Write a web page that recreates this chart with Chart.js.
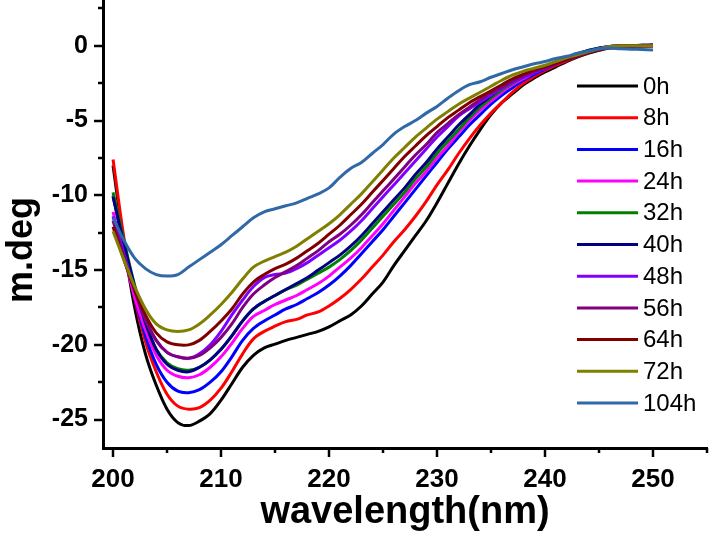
<!DOCTYPE html>
<html>
<head>
<meta charset="utf-8">
<title>CD spectra</title>
<script src="https://cdn.jsdelivr.net/npm/chart.js@4.4.0/dist/chart.umd.min.js"></script>
<style>
  html, body { margin: 0; padding: 0; background: #fff; }
  #wrap { width: 709px; height: 535px; }
</style>
</head>
<body>
<div id="wrap"><canvas id="cdChart" width="709" height="535"></canvas></div>
<script>
// wavelength (nm)
var wavelengths = [200, 201, 202, 203, 204, 205, 206, 207, 208, 209,
                   210, 211, 212, 213, 214, 215, 216, 217, 218, 219,
                   220, 221, 222, 223, 224, 225, 226, 227, 228, 229,
                   230, 231, 232, 233, 234, 235, 236, 237, 238, 239,
                   240, 241, 242, 243, 244, 245, 246, 247, 248, 249, 250];

// m.deg per time point
var h0 = [-8.0, -13.2, -17.5, -20.6, -22.7, -24.3, -25.2, -25.4, -25.1, -24.6,
          -23.7, -22.6, -21.5, -20.7, -20.2, -19.95, -19.7, -19.5, -19.3, -19.1,
          -18.8, -18.4, -18.0, -17.4, -16.6, -15.8, -14.7, -13.7, -12.7, -11.7,
          -10.5, -9.2, -7.9, -6.7, -5.6, -4.6, -3.8, -3.2, -2.6, -2.15,
          -1.75, -1.4, -1.05, -0.75, -0.5, -0.3, -0.15, -0.1, -0.05, 0, 0];
var h8 = [-7.6, -12.8, -16.9, -19.8, -21.8, -23.3, -24.1, -24.3, -24.2, -23.7,
          -22.9, -21.8, -20.6, -19.6, -19.1, -18.75, -18.45, -18.3, -18.0, -17.8,
          -17.4, -16.9, -16.3, -15.6, -14.8, -14.0, -13.1, -12.3, -11.4, -10.4,
          -9.3, -8.3, -7.2, -6.2, -5.3, -4.5, -3.8, -3.1, -2.5, -2.05,
          -1.65, -1.3, -1.0, -0.7, -0.45, -0.25, -0.15, -0.1, -0.05, 0, 0.05];
var h16 = [-10.0, -13.5, -16.8, -19.4, -21.3, -22.5, -23.1, -23.2, -23.0, -22.5,
           -21.8, -20.8, -19.7, -18.9, -18.4, -18.0, -17.6, -17.3, -16.9, -16.5,
           -16.0, -15.4, -14.7, -13.9, -13.1, -12.3, -11.4, -10.5, -9.6, -8.7,
           -7.8, -6.9, -6.1, -5.3, -4.6, -3.9, -3.3, -2.8, -2.3, -1.9,
           -1.55, -1.2, -0.9, -0.65, -0.4, -0.2, -0.1, -0.05, -0.05, 0, 0];
var h24 = [-11.1, -14.0, -16.8, -19.0, -20.7, -21.7, -22.1, -22.2, -22.0, -21.5,
           -20.8, -19.9, -18.9, -18.1, -17.7, -17.3, -17.0, -16.7, -16.3, -15.9,
           -15.4, -14.8, -14.2, -13.5, -12.7, -11.9, -11.0, -10.1, -9.2, -8.4,
           -7.5, -6.7, -5.8, -5.0, -4.3, -3.7, -3.1, -2.6, -2.2, -1.8,
           -1.45, -1.15, -0.85, -0.6, -0.4, -0.2, -0.1, -0.05, 0, 0, 0];
var h32 = [-9.8, -13.0, -16.0, -18.5, -20.3, -21.2, -21.6, -21.7, -21.5, -21.0,
           -20.3, -19.4, -18.4, -17.6, -17.1, -16.7, -16.3, -16.0, -15.6, -15.2,
           -14.8, -14.3, -13.7, -13.0, -12.2, -11.4, -10.6, -9.8, -8.9, -8.1,
           -7.2, -6.4, -5.6, -4.8, -4.1, -3.5, -2.95, -2.5, -2.1, -1.7,
           -1.4, -1.1, -0.8, -0.55, -0.3, -0.15, -0.05, 0, 0, 0, 0.05];
var h40 = [-10.1, -13.2, -16.1, -18.5, -20.3, -21.3, -21.7, -21.8, -21.5, -21.0,
           -20.3, -19.4, -18.4, -17.6, -17.1, -16.7, -16.3, -15.9, -15.5, -15.0,
           -14.5, -14.0, -13.4, -12.7, -11.9, -11.1, -10.3, -9.5, -8.6, -7.8,
           -6.9, -6.1, -5.3, -4.6, -3.9, -3.35, -2.8, -2.35, -2.0, -1.65,
           -1.35, -1.05, -0.8, -0.55, -0.3, -0.15, -0.05, 0, 0, 0.05, 0.05];
var h48 = [-11.4, -13.9, -16.3, -18.3, -19.7, -20.5, -20.8, -20.9, -20.6, -20.0,
           -19.1, -18.0, -17.0, -16.1, -15.5, -15.3, -15.2, -14.9, -14.5, -14.0,
           -13.5, -13.0, -12.4, -11.7, -10.9, -10.1, -9.3, -8.5, -7.7, -6.9,
           -6.1, -5.4, -4.7, -4.2, -3.75, -3.3, -2.85, -2.45, -2.1, -1.8,
           -1.5, -1.2, -0.9, -0.65, -0.4, -0.2, -0.05, 0, 0, 0, 0];
var h56 = [-11.7, -14.1, -16.4, -18.3, -19.7, -20.5, -20.8, -20.9, -20.7, -20.2,
           -19.5, -18.6, -17.5, -16.6, -16.0, -15.5, -15.1, -14.7, -14.2, -13.7,
           -13.1, -12.6, -12.0, -11.3, -10.5, -9.7, -8.9, -8.1, -7.3, -6.6,
           -5.8, -5.2, -4.6, -4.1, -3.6, -3.15, -2.75, -2.35, -2.0, -1.7,
           -1.45, -1.2, -0.95, -0.7, -0.45, -0.25, -0.1, 0, 0, 0, 0];
var h64 = [-12.1, -14.3, -16.3, -18.0, -19.2, -19.8, -20.0, -20.0, -19.7, -19.1,
           -18.4, -17.6, -16.6, -15.8, -15.3, -14.9, -14.6, -14.2, -13.7, -13.2,
           -12.6, -12.0, -11.3, -10.6, -9.8, -9.0, -8.2, -7.4, -6.7, -6.0,
           -5.4, -4.8, -4.3, -3.8, -3.4, -3.0, -2.6, -2.2, -1.9, -1.6,
           -1.4, -1.15, -0.9, -0.65, -0.45, -0.25, -0.1, 0, 0, 0, 0];
var h72 = [-12.4, -14.3, -16.1, -17.6, -18.6, -19.0, -19.1, -19.0, -18.6, -18.0,
           -17.3, -16.5, -15.6, -14.8, -14.4, -14.1, -13.8, -13.4, -12.9, -12.4,
           -11.9, -11.3, -10.6, -9.9, -9.1, -8.3, -7.5, -6.8, -6.1, -5.5,
           -4.9, -4.4, -3.9, -3.5, -3.1, -2.7, -2.3, -1.95, -1.7, -1.5,
           -1.3, -1.05, -0.8, -0.6, -0.4, -0.2, -0.05, 0, 0, 0, 0];
var h104 = [-11.5, -13.0, -14.2, -14.9, -15.3, -15.4, -15.3, -14.8, -14.3, -13.8,
            -13.3, -12.7, -12.1, -11.5, -11.1, -10.9, -10.7, -10.5, -10.2, -9.9,
            -9.5, -8.8, -8.2, -7.8, -7.2, -6.6, -5.9, -5.4, -5.0, -4.5,
            -4.05, -3.5, -3.0, -2.6, -2.4, -2.1, -1.85, -1.6, -1.4, -1.2,
            -1.05, -0.85, -0.7, -0.5, -0.35, -0.2, -0.15, -0.2, -0.22, -0.25, -0.27];

var seriesLabels = ['0h', '8h', '16h', '24h', '32h', '40h', '48h', '56h', '64h', '72h', '104h'];
var seriesValues = [h0, h8, h16, h24, h32, h40, h48, h56, h64, h72, h104];
var seriesColors = ['#000000', '#ff0000', '#0000ff', '#ff00ff', '#008000', '#000080',
                    '#8000ff', '#800080', '#800000', '#808000', '#3068a8'];

// axis ticks (majors get labels)
var xTickValues = [200, 205, 210, 215, 220, 225, 230, 235, 240, 245, 250, 255];
var yTickValues = [-25, -22.5, -20, -17.5, -15, -12.5, -10, -7.5, -5, -2.5, 0, 2.5];

var fontFamily = '"Liberation Sans", Arial, Helvetica, sans-serif';

function toPoints(values) {
    return wavelengths.map(function(w, i) { return { x: w, y: values[i] }; });
}

var datasets = seriesValues.map(function(values, i) {
    return {
        label: seriesLabels[i],
        data: toPoints(values),
        borderColor: seriesColors[i],
        backgroundColor: seriesColors[i],
        borderWidth: 3,
        pointRadius: 0,
        tension: 0.35,
        fill: false,
        order: seriesValues.length - i // later series drawn on top
    };
});

// no extra padding around the axes, chart area fixed by layout padding
function fixScale(scale, size) {
    if (scale.isHorizontal()) scale.height = size; else scale.width = size;
    scale.paddingTop = 0;
    scale.paddingBottom = 0;
    scale.paddingLeft = 0;
    scale.paddingRight = 0;
}

// major/minor tick marks pointing outward + y title
var axisTicks = {
    id: 'axisTicks',
    afterDraw: function(chart) {
        var ctx = chart.ctx;
        var xs = chart.scales.x;
        var ys = chart.scales.y;
        ctx.save();
        ctx.strokeStyle = '#000';
        ctx.lineWidth = 2.5;
        xTickValues.forEach(function(v) {
            var px = Math.round(xs.getPixelForValue(v));
            var len = v % 10 === 0 ? 9 : 5;
            ctx.beginPath();
            ctx.moveTo(px, xs.top);
            ctx.lineTo(px, xs.top + len);
            ctx.stroke();
        });
        yTickValues.forEach(function(v) {
            var py = Math.round(ys.getPixelForValue(v));
            var len = v % 5 === 0 ? 9 : 5;
            ctx.beginPath();
            ctx.moveTo(ys.right, py);
            ctx.lineTo(ys.right - len, py);
            ctx.stroke();
        });
        // y axis title
        ctx.translate(22, 250);
        ctx.rotate(-Math.PI / 2);
        ctx.font = 'bold 36px ' + fontFamily;
        ctx.fillStyle = '#000';
        ctx.textAlign = 'center';
        ctx.textBaseline = 'middle';
        ctx.fillText('m.deg', 0, 0);
        ctx.restore();
    }
};

// legend inside the plot, top right
var insideLegend = {
    id: 'insideLegend',
    afterDraw: function(chart) {
        var ctx = chart.ctx;
        var area = chart.chartArea;
        var x0 = area.right - 130;
        var y0 = area.top + 85;
        var rowH = 31.7;
        ctx.save();
        ctx.font = '24px ' + fontFamily;
        ctx.textBaseline = 'middle';
        ctx.fillStyle = '#000';
        chart.data.datasets.forEach(function(ds, i) {
            var y = y0 + i * rowH;
            ctx.strokeStyle = ds.borderColor;
            ctx.lineWidth = 3;
            ctx.beginPath();
            ctx.moveTo(x0, y);
            ctx.lineTo(x0 + 61, y);
            ctx.stroke();
            ctx.fillText(ds.label, x0 + 66, y + 1);
        });
        ctx.restore();
    }
};

var ctx = document.getElementById('cdChart').getContext('2d');
var cdChart = new Chart(ctx, {
    type: 'line',
    data: { datasets: datasets },
    plugins: [axisTicks, insideLegend],
    options: {
        responsive: false,
        animation: false,
        devicePixelRatio: 1,
        layout: { padding: { top: 1, right: 2, left: 0, bottom: 0 } },
        plugins: {
            legend: { display: false },
            tooltip: { enabled: false }
        },
        scales: {
            x: {
                type: 'linear',
                min: 199.07,
                max: 255,
                afterBuildTicks: function(scale) {
                    scale.ticks = xTickValues.map(function(v) { return { value: v }; });
                },
                afterFit: function(scale) { fixScale(scale, 87); },
                grid: { display: false, drawTicks: false },
                border: { display: true, color: '#000', width: 3 },
                ticks: {
                    autoSkip: false,
                    maxRotation: 0,
                    padding: 16,
                    color: '#000',
                    font: { family: fontFamily, size: 26, weight: 'bold' },
                    callback: function(v) { return v % 10 === 0 ? String(v) : ''; }
                },
                title: {
                    display: true,
                    text: 'wavelength(nm)',
                    color: '#000',
                    padding: { top: 0, bottom: 0 },
                    font: { family: fontFamily, size: 38, weight: 'bold' }
                }
            },
            y: {
                type: 'linear',
                min: -26.9,
                max: 3,
                afterBuildTicks: function(scale) {
                    scale.ticks = yTickValues.map(function(v) { return { value: v }; });
                },
                afterFit: function(scale) { fixScale(scale, 103); },
                grid: { display: false, drawTicks: false },
                border: { display: true, color: '#000', width: 3 },
                ticks: {
                    autoSkip: false,
                    padding: 15,
                    color: '#000',
                    font: { family: fontFamily, size: 25, weight: 'bold' },
                    callback: function(v) { return v % 5 === 0 ? String(v) : ''; }
                }
            }
        }
    }
});
</script>
</body>
</html>
